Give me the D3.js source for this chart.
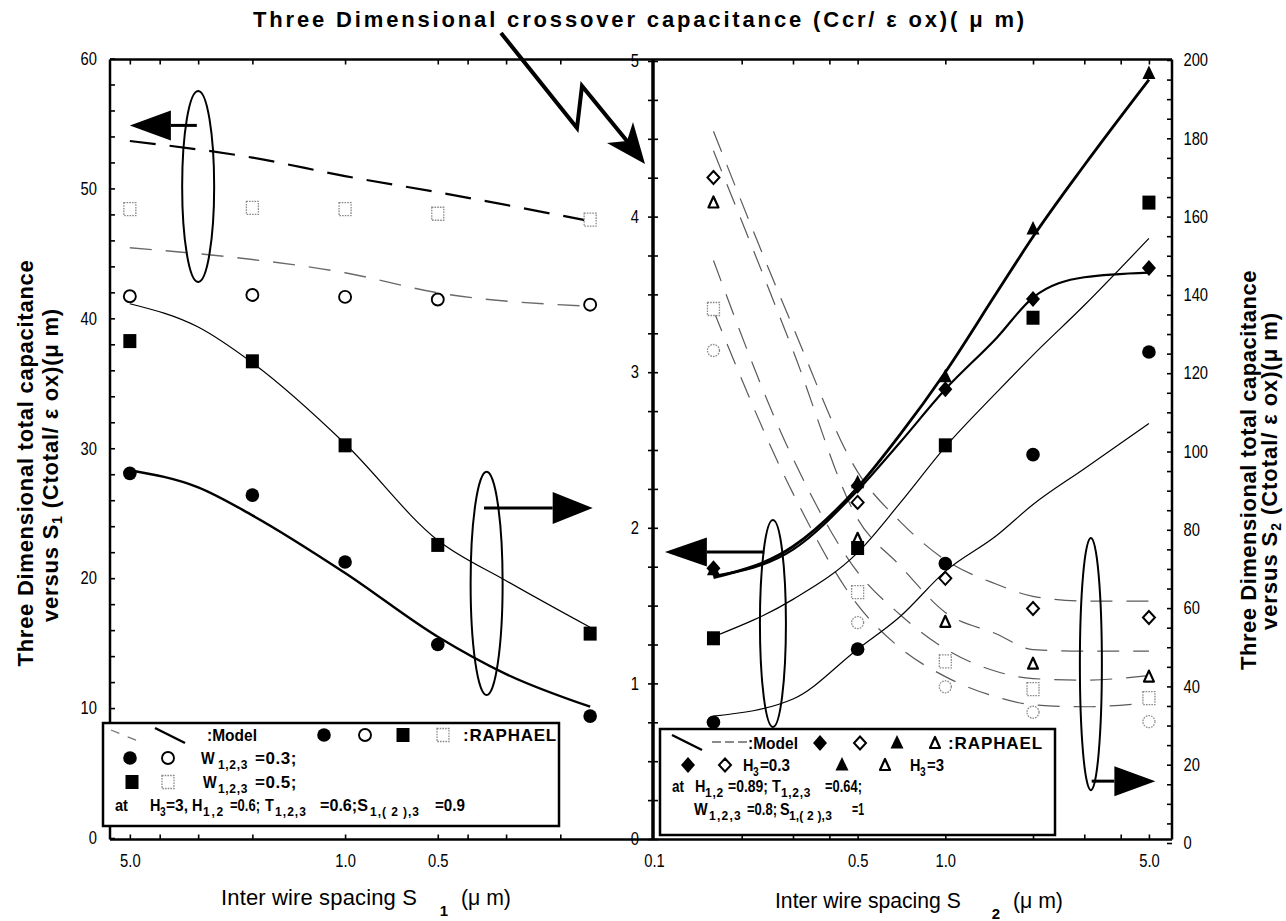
<!DOCTYPE html>
<html><head><meta charset="utf-8">
<script src="https://cdn.jsdelivr.net/npm/d3@7"></script>
<style>
body{margin:0;background:#fff;}
svg{display:block;}
</style></head>
<body>
<svg id="c" width="1286" height="921"></svg>
<script>
// ===================== DATA =====================
// ---- Left panel: versus S1 (µm) ----
const s1Points = [5, 2, 1, 0.5, 0.16];
const s1Model  = [5, 3, 2, 1, 0.5, 0.3, 0.16];
// total capacitance (left axis, 0-60) - RAPHAEL open symbols
const leftOpenSquareW05 = [48.4, 48.5, 48.4, 48.05, 47.6];
const leftOpenCircleW03 = [41.7, 41.8, 41.65, 41.45, 41.05];
// total capacitance model (dashed)
const leftModelTotalW05 = [53.65, 52.37, 50.95, 49.7, 47.48];
const leftModelTotalW03 = [45.43, 44.53, 43.51, 41.97, 40.93];
// crossover capacitance (middle axis, 0-5) - RAPHAEL filled symbols
const leftFillCircleW03 = [2.35, 2.21, 1.78, 1.25, 0.79];
const leftFillSquareW05 = [3.20, 3.07, 2.53, 1.89, 1.32];
// crossover model (solid), sampled at s1Model
const leftModelCrossW03 = [2.37, 2.26, 2.08, 1.71, 1.30, 1.06, 0.85];
const leftModelCrossW05 = [3.44, 3.29, 3.06, 2.54, 1.92, 1.66, 1.36];

// ---- Right panel: versus S2 (µm) ----
const s2Points = [0.16, 0.5, 1, 2, 5];
const s2Model  = [0.16, 0.3, 0.5, 0.7, 1, 1.5, 2, 3, 5];
// crossover (middle axis 0-5) filled symbols
const rightFillDiamond  = [1.74, 2.27, 2.89, 3.47, 3.67];
const rightFillTriangle = [1.73, 2.29, 2.97, 3.92, 4.92];
const rightFillSquare   = [1.29, 1.87, 2.53, 3.35, 4.09];
const rightFillCircle   = [0.75, 1.22, 1.77, 2.47, 3.13];
// crossover models (solid)
const rightModelTriangle = [1.68, 1.88, 2.26, 2.60, 3.00, 3.51, 3.87, 4.33, 4.88];
const rightModelDiamond  = [1.69, 1.86, 2.24, 2.55, 2.89, 3.22, 3.48, 3.61, 3.64];
const rightModelSquare   = [1.30, 1.54, 1.84, 2.16, 2.52, 2.87, 3.11, 3.43, 3.86];
const rightModelCircle   = [0.79, 0.90, 1.22, 1.43, 1.72, 1.95, 2.15, 2.38, 2.67];
// total capacitance (right axis 0-200) open symbols
const rightOpenDiamond  = [170, 87, 67.6, 59.9, 57.6];
const rightOpenTriangle = [163.6, 77.7, 56.5, 45.8, 42.5];
const rightOpenSquare   = [136.4, 64.1, 46.4, 39.3, 37.0];
const rightOpenCircle   = [125.8, 56.3, 39.9, 33.4, 31.0];
// total capacitance models (dashed)
const rightModelTotDiamond  = [181.8, 131.8, 94.8, 82.1, 72.3, 66.1, 63.0, 61.8, 61.8];
const rightModelTotTriangle = [176.8, 125.8, 82.8, 70.8, 58.9, 53.4, 49.4, 49.0, 49.0];
const rightModelTotSquare   = [148.8, 98.2, 69.2, 58.3, 49.6, 43.8, 42.0, 41.6, 42.8];
const rightModelTotCircle   = [136.0, 89.3, 60.8, 49.8, 42.5, 37.3, 35.3, 34.8, 35.8];

// ---- tick labels ----
const leftAxisTicks  = [0, 10, 20, 30, 40, 50, 60];
const crossAxisTicks = [0, 1, 2, 3, 4, 5];
const rightAxisTicks = [0, 20, 40, 60, 80, 100, 120, 140, 160, 180, 200];
const s1TickLabels = [5, 1, 0.5];
const s2TickLabels = [0.1, 0.5, 1, 5];
const s1MinorTicks = [5, 4, 3, 2, 1, 0.5, 0.4, 0.3, 0.2];
const s2MinorTicks = [0.2, 0.3, 0.4, 0.5, 1, 2, 3, 4, 5];

// ---- texts ----
const titleText = "Three Dimensional crossover capacitance (Ccr/ \u03B5 ox)( \u03BC m)";

// ===================== DRAW =====================
const FONT = "'Liberation Sans', Arial, Helvetica, sans-serif";
const svg = d3.select('#c').style('font-family', FONT);

const X0 = 110, XM = 653, X1 = 1172, YT = 59.5, YB = 839.5;
const xL = d3.scaleLog().domain([5.8, 0.1]).range([X0, XM]);
const xR = d3.scaleLog().domain([0.1, 6]).range([654, X1]);
const yTotL = d3.scaleLinear().domain([0, 60]).range([838, 58.5]);
const yCr   = d3.scaleLinear().domain([0, 5]).range([839, 61]);
const yTotR = d3.scaleLinear().domain([0, 200]).range([843, 60]);

// widen with letter-spacing
function fit(t, target) {
  const n = t.text().length;
  const w = t.node().getComputedTextLength();
  t.attr('letter-spacing', ((target - w) / n).toFixed(3));
}
// squeeze horizontally (narrow look) or widen with spacing
function fitNarrow(t, target) {
  const w = t.node().getComputedTextLength();
  if (w > target) {
    const x = +t.attr('x'), y = +t.attr('y'), sx = target / w;
    t.attr('transform', `translate(${x},${y}) scale(${sx.toFixed(4)},1) translate(${-x},${-y})`);
  } else {
    t.attr('letter-spacing', ((target - w) / t.text().length).toFixed(3));
  }
}

// ---- axes ticks ----
function tickOnly(g) { g.select('.domain').remove(); g.selectAll('.tick line').attr('stroke', '#000').attr('stroke-width', 1.6); }
function labelsOnly(g, size) {
  g.select('.domain').remove();
  g.selectAll('.tick line').remove();
  g.selectAll('.tick text').attr('font-size', size).attr('fill', '#000').attr('font-family', FONT)
    .attr('transform', 'scale(0.82,1)');
}
// left axis
svg.append('g').attr('transform', `translate(${X0},0)`)
  .call(d3.axisRight(yTotL).tickValues(d3.range(0, 61, 2)).tickSize(5).tickFormat('')).call(tickOnly);
svg.append('g').attr('transform', `translate(${X0},0)`)
  .call(d3.axisLeft(yTotL).tickValues(leftAxisTicks).tickSize(0).tickPadding(16)).call(g => labelsOnly(g, 18));
// middle axis
svg.append('g').attr('transform', `translate(${XM},0)`)
  .call(d3.axisLeft(yCr).tickValues(d3.range(0, 5.01, 0.25)).tickSize(5).tickFormat('')).call(tickOnly);
svg.append('g').attr('transform', `translate(${XM},0)`)
  .call(d3.axisRight(yCr).tickValues(d3.range(0, 5.01, 0.25)).tickSize(5).tickFormat('')).call(tickOnly);
svg.append('g').attr('transform', `translate(${XM},0)`)
  .call(d3.axisLeft(yCr).tickValues(crossAxisTicks).tickSize(0).tickPadding(17).tickFormat(d3.format('d'))).call(g => labelsOnly(g, 18));
// right axis
svg.append('g').attr('transform', `translate(${X1},0)`)
  .call(d3.axisLeft(yTotR).tickValues(d3.range(0, 201, 5)).tickSize(5).tickFormat('')).call(tickOnly);
svg.append('g').attr('transform', `translate(${X1},0)`)
  .call(d3.axisRight(yTotR).tickValues(rightAxisTicks).tickSize(0).tickPadding(14)).call(g => labelsOnly(g, 18));
// bottom + top ticks
svg.append('g').attr('transform', `translate(0,${YB})`)
  .call(d3.axisTop(xL).tickValues(s1MinorTicks).tickSize(5).tickFormat('')).call(tickOnly);
svg.append('g').attr('transform', `translate(0,${YB})`)
  .call(d3.axisTop(xR).tickValues(s2MinorTicks).tickSize(5).tickFormat('')).call(tickOnly);
svg.append('g').attr('transform', `translate(0,${YT})`)
  .call(d3.axisBottom(xL).tickValues(s1MinorTicks).tickSize(5).tickFormat('')).call(tickOnly);
svg.append('g').attr('transform', `translate(0,${YT})`)
  .call(d3.axisBottom(xR).tickValues(s2MinorTicks).tickSize(5).tickFormat('')).call(tickOnly);
svg.append('g').attr('transform', `translate(0,${YB})`)
  .call(d3.axisBottom(xL).tickValues(s1TickLabels).tickSize(0).tickPadding(15).tickFormat(d3.format('.1f'))).call(g => labelsOnly(g, 18));
svg.append('g').attr('transform', `translate(0,${YB})`)
  .call(d3.axisBottom(xR).tickValues(s2TickLabels).tickSize(0).tickPadding(15).tickFormat(d3.format('.1f'))).call(g => labelsOnly(g, 18));

// ---- frame ----
const frame = svg.append('g').attr('stroke', '#000').attr('fill', 'none');
frame.append('line').attr('x1', X0).attr('x2', X1).attr('y1', YT).attr('y2', YT).attr('stroke-width', 2.5);
frame.append('line').attr('x1', X0).attr('x2', X1).attr('y1', YB).attr('y2', YB).attr('stroke-width', 2.5);
frame.append('line').attr('x1', X0).attr('x2', X0).attr('y1', YT).attr('y2', YB).attr('stroke-width', 2.5);
frame.append('line').attr('x1', X1).attr('x2', X1).attr('y1', YT).attr('y2', YB).attr('stroke-width', 2.5);
frame.append('line').attr('x1', XM).attr('x2', XM).attr('y1', YT).attr('y2', YB).attr('stroke-width', 3.5);

// ---- symbols ----
function sym(g, type, x, y) {
  switch (type) {
    case 'fc': g.append('circle').attr('cx', x).attr('cy', y).attr('r', 6.8).attr('fill', '#000'); break;
    case 'oc': g.append('circle').attr('cx', x).attr('cy', y).attr('r', 6).attr('fill', '#fff').attr('stroke', '#000').attr('stroke-width', 1.9); break;
    case 'ocg': g.append('circle').attr('cx', x).attr('cy', y).attr('r', 6).attr('fill', '#fff').attr('stroke', '#8a8a8a').attr('stroke-width', 1.3).attr('stroke-dasharray', '1.6,1.1'); break;
    case 'fs': g.append('rect').attr('x', x - 6.5).attr('y', y - 7).attr('width', 13).attr('height', 14).attr('fill', '#000'); break;
    case 'osg': g.append('rect').attr('x', x - 6).attr('y', y - 6.5).attr('width', 12).attr('height', 13).attr('fill', '#fff').attr('stroke', '#8a8a8a').attr('stroke-width', 1.3).attr('stroke-dasharray', '1.6,1.1'); break;
    case 'fd': g.append('path').attr('d', `M${x},${y - 8}L${x + 7},${y}L${x},${y + 8}L${x - 7},${y}Z`).attr('fill', '#000'); break;
    case 'od': g.append('path').attr('d', `M${x},${y - 6.5}L${x + 6},${y}L${x},${y + 6.5}L${x - 6},${y}Z`).attr('fill', '#fff').attr('stroke', '#000').attr('stroke-width', 2); break;
    case 'ft': g.append('path').attr('d', `M${x},${y - 8}L${x + 6.5},${y + 5.5}L${x - 6.5},${y + 5.5}Z`).attr('fill', '#000'); break;
    case 'ot': g.append('path').attr('d', `M${x},${y - 6}L${x + 5},${y + 5}L${x - 5},${y + 5}Z`).attr('fill', '#fff').attr('stroke', '#000').attr('stroke-width', 2.2).attr('stroke-linejoin', 'round'); break;
  }
}

// ---- curves ----
const curves = svg.append('g').attr('fill', 'none');
function curve(xs, ys, xv, yv, style) {
  const line = d3.line().x(d => xs(d[0])).y(d => ys(d[1])).curve(d3.curveMonotoneX);
  const p = curves.append('path').attr('d', line(xv.map((v, i) => [v, yv[i]])));
  Object.entries(style).forEach(([k, v]) => p.attr(k, v));
}
const sThick = { stroke: '#000', 'stroke-width': 2.4 };
const sThin = { stroke: '#000', 'stroke-width': 1.2 };
const sLongDash = { stroke: '#000', 'stroke-width': 2.2, 'stroke-dasharray': '26,14' };
const sGrayDash = { stroke: '#6a6a6a', 'stroke-width': 1.4, 'stroke-dasharray': '22,14' };
const sGrayDashR = { stroke: '#5a5a5a', 'stroke-width': 1.2, 'stroke-dasharray': '22,14' };

// left panel
curve(xL, yTotL, s1Points, leftModelTotalW05, sLongDash);
curve(xL, yTotL, s1Points, leftModelTotalW03, sGrayDash);
curve(xL, yCr, s1Model, leftModelCrossW03, sThick);
curve(xL, yCr, s1Model, leftModelCrossW05, sThin);
// right panel
curve(xR, yTotR, s2Model, rightModelTotDiamond, sGrayDashR);
curve(xR, yTotR, s2Model, rightModelTotTriangle, sGrayDashR);
curve(xR, yTotR, s2Model, rightModelTotSquare, sGrayDashR);
curve(xR, yTotR, s2Model, rightModelTotCircle, sGrayDashR);
curve(xR, yCr, s2Model, rightModelCircle, sThin);
curve(xR, yCr, s2Model, rightModelSquare, sThin);
curve(xR, yCr, s2Model, rightModelDiamond, { stroke: '#000', 'stroke-width': 2.2 });
curve(xR, yCr, s2Model, rightModelTriangle, { stroke: '#000', 'stroke-width': 2.8 });

// ---- markers ----
const marks = svg.append('g');
function series(xs, ys, xv, yv, type) { xv.forEach((v, i) => sym(marks, type, xs(v), ys(yv[i]))); }
series(xL, yTotL, s1Points, leftOpenSquareW05, 'osg');
series(xL, yTotL, s1Points, leftOpenCircleW03, 'oc');
series(xL, yCr, s1Points, leftFillSquareW05, 'fs');
series(xL, yCr, s1Points, leftFillCircleW03, 'fc');
series(xR, yTotR, s2Points, rightOpenSquare, 'osg');
series(xR, yTotR, s2Points, rightOpenCircle, 'ocg');
series(xR, yTotR, s2Points, rightOpenTriangle, 'ot');
series(xR, yTotR, s2Points, rightOpenDiamond, 'od');
series(xR, yCr, s2Points, rightFillCircle, 'fc');
series(xR, yCr, s2Points, rightFillSquare, 'fs');
series(xR, yCr, s2Points, rightFillTriangle, 'ft');
series(xR, yCr, s2Points, rightFillDiamond, 'fd');

// ---- annotations: ellipses and arrows (positions in data units) ----
const ann = svg.append('g');
function ellipse(xs, ys, xv, yTop, yBot, rx) {
  ann.append('ellipse').attr('cx', xs(xv)).attr('cy', (ys(yTop) + ys(yBot)) / 2)
    .attr('rx', rx).attr('ry', Math.abs(ys(yBot) - ys(yTop)) / 2)
    .attr('fill', 'none').attr('stroke', '#000').attr('stroke-width', 2);
}
function harrow(xs, ys, xFrom, xTip, yv, headLen, headHalf) {
  const x0 = xs(xFrom), x1 = xs(xTip), y = ys(yv);
  const dir = Math.sign(x1 - x0);
  const xb = x1 - dir * headLen;
  ann.append('line').attr('x1', x0).attr('x2', xb).attr('y1', y).attr('y2', y).attr('stroke', '#000').attr('stroke-width', 3);
  ann.append('path').attr('d', `M${x1},${y}L${xb},${y - headHalf}L${xb},${y + headHalf}Z`).attr('fill', '#000');
}
ellipse(xL, yTotL, 3.0, 57.5, 42.8, 16);
harrow(xL, yTotL, 3.03, 5.0, 54.85, 41, 15);
ellipse(xL, yCr, 0.347, 2.36, 0.925, 16);
harrow(xL, yCr, 0.354, 0.157, 2.127, 40, 16);
ellipse(xR, yCr, 0.256, 2.05, 0.72, 13);
harrow(xR, yCr, 0.239, 0.109, 1.844, 42, 14.5);
ellipse(xR, yTotR, 3.16, 77.9, 13.5, 11);
harrow(xR, yTotR, 3.18, 5.26, 15.8, 41, 15);

// title lightning arrow
ann.append('path').attr('d', 'M501,33L577,128L582,86L636,152').attr('fill', 'none')
  .attr('stroke', '#000').attr('stroke-width', 4).attr('stroke-linejoin', 'miter');
ann.append('path').attr('d', 'M645,164L633,122L627,141L607,143Z').attr('fill', '#000');

// ---- legends ----
const leg = svg.append('g');
// each item: [text, x0, x1 (target right edge or null), isSub]
function legRow(items, base) {
  items.forEach(([s, x0, x1, sub]) => {
    const t = leg.append('text').attr('x', x0).attr('y', sub ? base + 5 : base)
      .attr('font-weight', 'bold')
      .attr('font-size', sub ? 12 : 17).attr('fill', '#000').text(s);
    if (x1 != null) fitNarrow(t, x1 - x0);
    else t.attr('transform', `translate(${x0},0) scale(0.85,1) translate(${-x0},0)`);
  });
}
// left legend
leg.append('rect').attr('x', 103).attr('y', 723).attr('width', 456).attr('height', 103)
  .attr('fill', '#fff').attr('stroke', '#000').attr('stroke-width', 2.5);
leg.append('line').attr('x1', 111).attr('y1', 730).attr('x2', 143).attr('y2', 743).attr('stroke', '#777').attr('stroke-width', 1.3).attr('stroke-dasharray', '9,9');
leg.append('line').attr('x1', 155).attr('y1', 728).attr('x2', 185).attr('y2', 743).attr('stroke', '#000').attr('stroke-width', 2.5);
legRow([[':Model', 207, 257], [':RAPHAEL', 463, 557]], 741);
sym(leg, 'fc', 324, 735); sym(leg, 'oc', 365, 735); sym(leg, 'fs', 403, 735); sym(leg, 'osg', 443, 735);
sym(leg, 'fc', 130, 758); sym(leg, 'oc', 168, 758);
legRow([['W', 201, null], ['1,2,3', 218, 248, true], ['=0.3;', 255, 297]], 764);
sym(leg, 'fs', 132, 782); sym(leg, 'osg', 168, 782);
legRow([['W', 203, null], ['1,2,3', 218, 248, true], ['=0.5;', 255, 297]], 788);
legRow([['at', 115, 128], ['H', 150, null], ['3', 160, null, true], ['=3,', 166, 188],
  ['H', 192, null], ['1,2', 203, 225, true], ['=0.6;', 230, 260], ['T', 265, null],
  ['1,2,3', 275, 307, true], ['=0.6;S', 320, 368], ['1,( 2 ),3', 370, 420, true], ['=0.9', 435, 465]], 811);

// right legend
leg.append('rect').attr('x', 660).attr('y', 729).attr('width', 395).attr('height', 106)
  .attr('fill', '#fff').attr('stroke', '#000').attr('stroke-width', 2.5);
leg.append('line').attr('x1', 672).attr('y1', 735).attr('x2', 702).attr('y2', 750).attr('stroke', '#000').attr('stroke-width', 2.5);
leg.append('line').attr('x1', 712).attr('y1', 742).attr('x2', 747).attr('y2', 742).attr('stroke', '#666').attr('stroke-width', 1.3).attr('stroke-dasharray', '9,4');
legRow([[':Model', 748, 798], [':RAPHAEL', 948, 1043]], 749);
sym(leg, 'fd', 820, 743); sym(leg, 'od', 860, 743); sym(leg, 'ft', 897, 743); sym(leg, 'ot', 935, 743);
sym(leg, 'fd', 688, 765); sym(leg, 'od', 725, 765);
legRow([['H', 743, null], ['3', 753, null, true], ['=0.3', 760, 790]], 771);
sym(leg, 'ft', 842, 765); sym(leg, 'ot', 885, 765);
legRow([['H', 910, null], ['3', 920, null, true], ['=3', 927, 944]], 771);
legRow([['at', 672, 684], ['H', 695, null], ['1,2', 705, 724, true], ['=0.89;', 728, 768],
  ['T', 772, null], ['1,2,3', 781, 811, true], ['=0.64;', 825, 862]], 792);
legRow([['W', 694, null], ['1,2,3', 709, 742, true], ['=0.8;', 747, 777],
  ['S', 780, null], ['1,( 2 ),3', 789, 832, true], ['=1', 852, 864]], 815);

// ---- titles ----
const tt = svg.append('text').attr('x', 640).attr('y', 27).attr('text-anchor', 'middle')
  .attr('font-size', 22).attr('font-weight', 'bold').text(titleText);
fit(tt, 774);

function rotTitle(x, y, parts, target) {
  const t = svg.append('text').attr('transform', `translate(${x},${y}) rotate(-90)`)
    .attr('text-anchor', 'middle').attr('font-size', 22).attr('font-weight', 'bold');
  parts.forEach(p => {
    const ts = t.append('tspan').text(p.t);
    if (p.sub) ts.attr('font-size', 14).attr('dy', 4); else if (p.back) ts.attr('dy', -4);
  });
  fit(t, target);
  return t;
}
rotTitle(33, 463, [{ t: 'Three Dimensional total capacitance' }], 407);
rotTitle(58, 465, [{ t: 'versus S' }, { t: '1', sub: true }, { t: ' (Ctotal/ \u03B5 ox)(\u03BC m)', back: true }], 314);
rotTitle(1256, 470, [{ t: 'Three Dimensional total capacitance' }], 400);
rotTitle(1277, 471, [{ t: 'versus S' }, { t: '2', sub: true }, { t: ' (Ctotal/ \u03B5 ox)(\u03BC m)', back: true }], 318);

function xTitle(x, y, w, sub, subX, unitX, unitW) {
  const t = svg.append('text').attr('x', x).attr('y', y).attr('font-size', 22).text('Inter wire spacing S');
  fitNarrow(t, w);
  svg.append('text').attr('x', subX).attr('y', y + 11).attr('font-size', 15).attr('font-weight', 'bold')
    .attr('text-anchor', 'middle').text(sub);
  const u = svg.append('text').attr('x', unitX).attr('y', y).attr('font-size', 22).text('(\u03BC m)');
  fitNarrow(u, unitW);
}
xTitle(221, 905, 196, '1', 444, 461, 50);
xTitle(775, 908, 186, '2', 996, 1013, 50);
</script>
</body></html>
